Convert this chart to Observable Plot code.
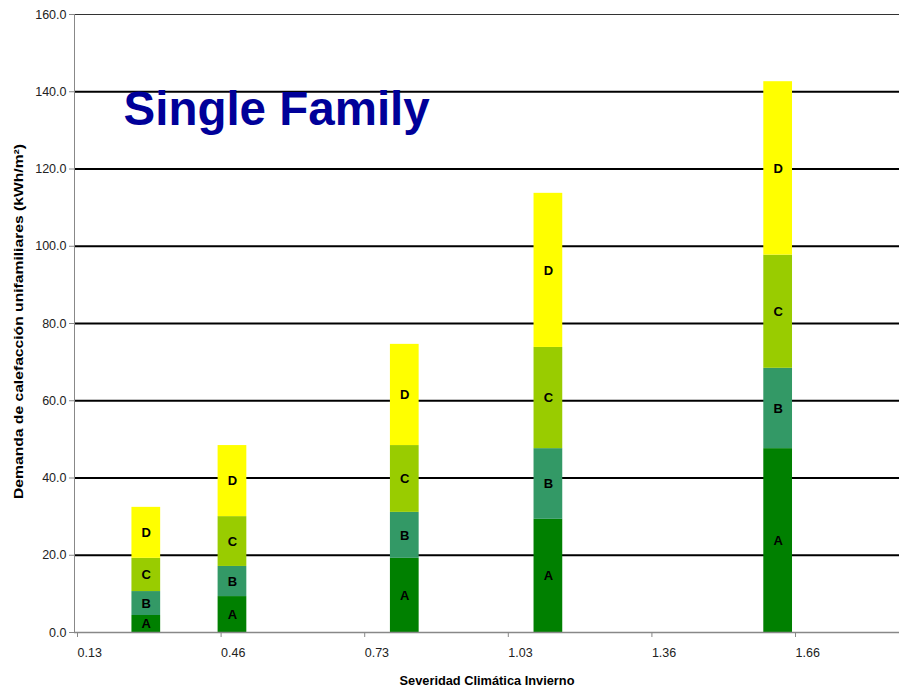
<!DOCTYPE html>
<html>
<head>
<meta charset="utf-8">
<script src="https://cdn.jsdelivr.net/npm/d3@7"></script>
<script src="https://cdn.jsdelivr.net/npm/@observablehq/plot@0.6"></script>
<style>
  html, body { margin: 0; padding: 0; background: #fff; }
  #chart { position: relative; width: 900px; height: 694px; }
  svg { font-family: "Liberation Sans", Arial, sans-serif; }
</style>
</head>
<body>
<div id="chart"></div>
<script>
// ---- data ----
const xTickLabels = ["0.13", "0.46", "0.73", "1.03", "1.36", "1.66"];
const barPositions = [0.5, 1.1, 2.3, 3.3, 4.9]; // position along the category axis (tick units)
const seriesNames = ["A", "B", "C", "D"];
const seriesA = [4.4, 9.3, 19.2, 29.3, 47.6];
const seriesB = [6.2, 7.8, 11.9, 18.3, 20.8];
const seriesC = [8.6, 12.9, 17.3, 26.2, 29.3];
const seriesD = [13.2, 18.4, 26.2, 39.9, 44.9];
const yTicks = [0, 20, 40, 60, 80, 100, 120, 140, 160];
const seriesColors = ["#008000", "#339966", "#99CC00", "#FFFF00"];
const title = "Single Family";
const xTitle = "Severidad Climática Invierno";
const yTitle = "Demanda de calefacción unifamiliares (kWh/m²)";

// ---- build stacked table ----
const seriesValues = [seriesA, seriesB, seriesC, seriesD];
const rows = [];
barPositions.forEach((pos, i) => {
  let base = 0;
  seriesNames.forEach((s, j) => {
    const v = seriesValues[j][i];
    rows.push({pos, series: s, y1: base, y2: base + v, mid: base + v / 2});
    base += v;
  });
});
const half = 0.1;

const plot = Plot.plot({
  width: 900,
  height: 694,
  marginLeft: 74,
  marginRight: 1,
  marginTop: 14,
  marginBottom: 62,
  style: {fontFamily: '"Liberation Sans", Arial, sans-serif', fontSize: "12px", color: "#222", background: "#fff"},
  x: {domain: [0, 5.745], axis: null},
  y: {domain: [0, 160], axis: null},
  color: {domain: seriesNames, range: seriesColors},
  marks: [
    Plot.ruleY(yTicks.filter(t => t > 0 && t < 160), {stroke: "#000", strokeWidth: 2}),
    Plot.ruleY([160], {stroke: "#333", strokeWidth: 1}),
    Plot.rect(rows, {x1: d => d.pos - half, x2: d => d.pos + half, y1: "y1", y2: "y2", fill: "series"}),
    Plot.text(rows, {x: "pos", y: "mid", text: "series", fontWeight: "bold", fontSize: 13, fill: "#000"}),
    Plot.ruleX([0], {stroke: "#888", strokeWidth: 1}),
    Plot.ruleY([0], {stroke: "#888", strokeWidth: 1.5}),
    Plot.axisY({ticks: yTicks, tickFormat: d3.format(".1f"), tickSize: 5, tickPadding: 3, label: null, fontSize: 12.5, stroke: "#888"}),
    Plot.axisX({ticks: d3.range(xTickLabels.length), tickFormat: i => xTickLabels[i], tickSize: 5, tickPadding: 11, textAnchor: "start", dx: 3, label: null, fontSize: 12.5, stroke: "#888"}),
    Plot.text([xTitle], {frameAnchor: "bottom", dy: 52, fontWeight: "bold", fontSize: 12.8, fill: "#000"}),
    Plot.text([yTitle], {frameAnchor: "left", dx: -56, dy: -2, rotate: -90, textAnchor: "middle", fontWeight: "bold", fontSize: 13, fill: "#000", className: "ytitle"}),
    Plot.text([title], {frameAnchor: "top-left", dx: 49, dy: 110, textAnchor: "start", lineAnchor: "bottom", fontWeight: "bold", fontSize: 47.5, fill: "#000099"})
  ]
});
document.getElementById("chart").appendChild(plot);
// stretch the vertical axis title to the length it has in the reference
plot.querySelectorAll(".ytitle text").forEach(t => {
  t.setAttribute("textLength", 355);
  t.setAttribute("lengthAdjust", "spacingAndGlyphs");
});
</script>
</body>
</html>
